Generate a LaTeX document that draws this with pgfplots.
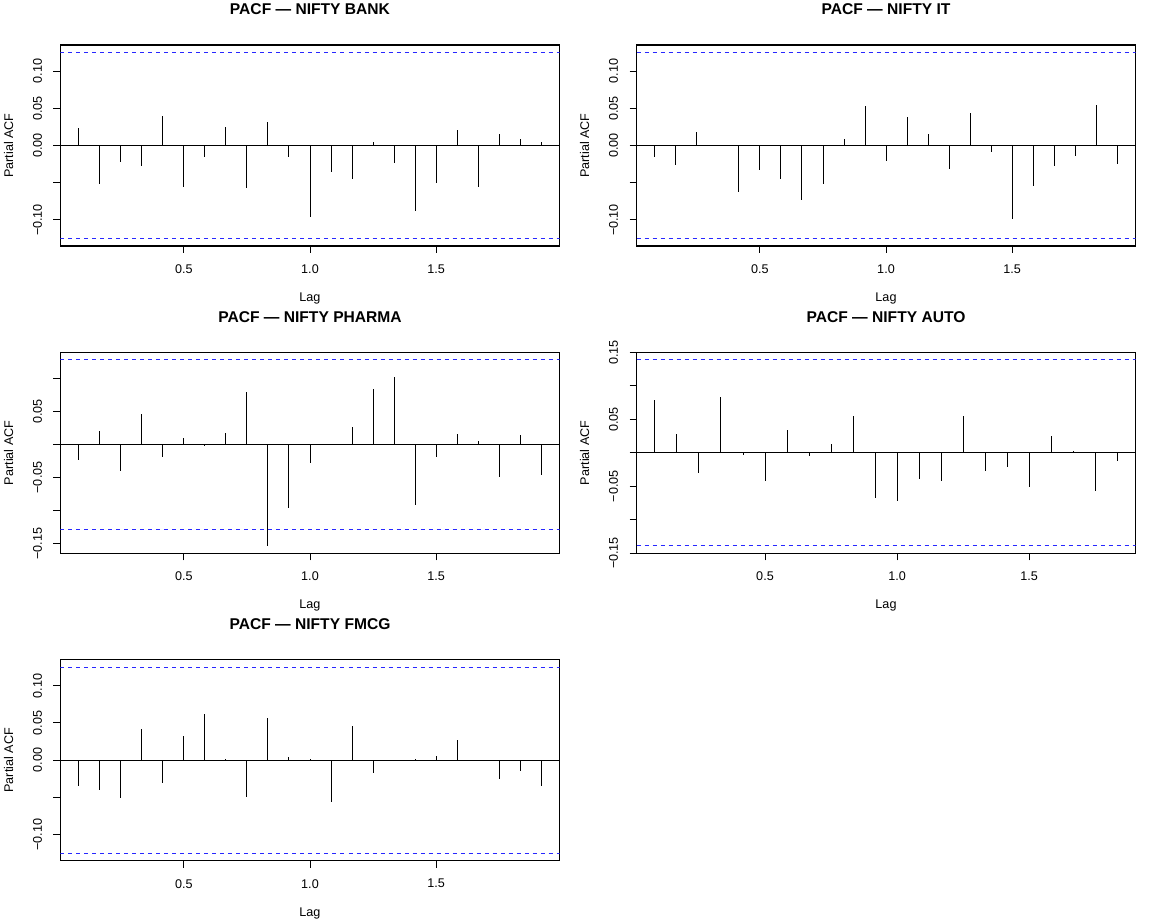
\documentclass[border=0pt]{standalone}
\usepackage{fontspec}
\setmainfont{Liberation Sans}
\usepackage{pgfplots}
\usepackage{pgfplotstable}
\pgfplotsset{compat=1.18}

% PACF values, lag k (months), lag in years = k/12
\pgfplotstableread{
k r
1 0.0233
2 -0.0516
3 -0.0215
4 -0.0274
5 0.0395
6 -0.0552
7 -0.0148
8 0.0251
9 -0.0565
10 0.0314
11 -0.0161
12 -0.0960
13 -0.0359
14 -0.0448
15 0.0045
16 -0.0229
17 -0.0883
18 -0.0498
19 0.0211
20 -0.0561
21 0.0148
22 0.0090
23 0.0049
}\bank

\pgfplotstableread{
k r
1 -0.0152
2 -0.0256
3 0.0179
4 0.0010
5 -0.0619
6 -0.0327
7 -0.0448
8 -0.0731
9 -0.0516
10 0.0081
11 0.0534
12 -0.0202
13 0.0386
14 0.0161
15 -0.0314
16 0.0439
17 -0.0081
18 -0.0982
19 -0.0543
20 -0.0269
21 -0.0135
22 0.0538
23 -0.0242
}\itdata

\pgfplotstableread{
k r
1 -0.0242
2 0.0202
3 -0.0409
4 0.0465
5 -0.0192
6 0.0101
7 -0.0030
8 0.0177
9 0.0798
10 -0.1535
11 -0.0970
12 -0.0288
13 -0.0015
14 0.0258
15 0.0838
16 0.1015
17 -0.0924
18 -0.0187
19 0.0157
20 0.0045
21 -0.0500
22 0.0141
23 -0.0465
}\pharma

\pgfplotstableread{
k r
1 0.0791
2 0.0274
3 -0.0303
4 0.0836
5 -0.0030
6 -0.0428
7 0.0343
8 -0.0045
9 0.0139
10 0.0557
11 -0.0677
12 -0.0726
13 -0.0398
14 -0.0418
15 0.0547
16 -0.0269
17 -0.0209
18 -0.0517
19 0.0244
20 0.0020
21 -0.0577
22 -0.0129
}\auto

\pgfplotstableread{
k r
1 -0.0345
2 -0.0399
3 -0.0507
4 0.0417
5 -0.0305
6 0.0323
7 0.0623
8 0.0010
9 -0.0498
10 0.0561
11 0.0040
12 0.0010
13 -0.0561
14 0.0457
15 -0.0170
16 -0.0010
17 0.0013
18 0.0054
19 0.0278
20 -0.0013
21 -0.0256
22 -0.0139
23 -0.0350
}\fmcg

\newcommand{\lblfont}{\fontsize{6.3}{7.5}\selectfont}
\pgfplotsset{
  pacf/.style={
    scale only axis, width=249.5pt, height=100.5pt,
    anchor=south west,
    axis line style={line width=0.55pt},
    tick align=outside, major tick length=3.5pt,
    tick style={black, line width=0.5pt},
    xtick pos=lower, ytick pos=left,
    xtick={0.5,1.0,1.5}, xticklabels={0.5,1.0,1.5},
    tick label style={font=\lblfont, inner sep=0pt},
    xticklabel style={anchor=center}, xticklabel shift=8pt,
    yticklabel style={rotate=90, anchor=center}, yticklabel shift=8pt,
    xlabel=Lag, ylabel=Partial ACF,
    every axis x label/.style={at={(axis description cs:0.5,-0.261)}, anchor=center, font=\lblfont},
    every axis y label/.style={at={(axis description cs:-0.1042,0.5)}, anchor=center, rotate=90, font=\lblfont},
    every axis title shift=0pt,
    every axis title/.style={at={(axis description cs:0.5,1.177)}, anchor=center, font=\bfseries\fontsize{7.8}{9}\selectfont},
  },
  spike/.style={ycomb, black, line width=0.5pt, mark=none},
  ci/.style={color={rgb,255:red,40;green,40;blue,255}, line width=0.6pt, dash pattern=on 2pt off 2pt},
}

\begin{document}
\begin{tikzpicture}
\path[use as bounding box] (0,0) rectangle (576pt,461pt);

\begin{axis}[pacf, at={(30.25pt,338pt)}, title={PACF — NIFTY BANK},
  xmin=0.01, xmax=1.99, ymin=-0.135, ymax=0.135,
  ytick={-0.10,-0.05,0,0.05,0.10}, yticklabels={−0.10,,0.00,0.05,0.10}]
\addplot[ci] coordinates {(0.01,0.125) (1.99,0.125)};
\addplot[ci] coordinates {(0.01,-0.125) (1.99,-0.125)};
\addplot[black, line width=0.5pt] coordinates {(0.01,0) (1.99,0)};
\addplot[spike] table[x expr=\thisrow{k}/12, y=r] {\bank};
\end{axis}

\begin{axis}[pacf, at={(318.25pt,338pt)}, title={PACF — NIFTY IT},
  xmin=0.01, xmax=1.99, ymin=-0.135, ymax=0.135,
  ytick={-0.10,-0.05,0,0.05,0.10}, yticklabels={−0.10,,0.00,0.05,0.10}]
\addplot[ci] coordinates {(0.01,0.125) (1.99,0.125)};
\addplot[ci] coordinates {(0.01,-0.125) (1.99,-0.125)};
\addplot[black, line width=0.5pt] coordinates {(0.01,0) (1.99,0)};
\addplot[spike] table[x expr=\thisrow{k}/12, y=r] {\itdata};
\end{axis}

\begin{axis}[pacf, at={(30.25pt,184.35pt)}, title={PACF — NIFTY PHARMA},
  xmin=0.01, xmax=1.99, ymin=-0.1648, ymax=0.1393,
  ytick={-0.15,-0.10,-0.05,0,0.05,0.10}, yticklabels={−0.15,,−0.05,,0.05,}]
\addplot[ci] coordinates {(0.01,0.1283) (1.99,0.1283)};
\addplot[ci] coordinates {(0.01,-0.1283) (1.99,-0.1283)};
\addplot[black, line width=0.5pt] coordinates {(0.01,0) (1.99,0)};
\addplot[spike] table[x expr=\thisrow{k}/12, y=r] {\pharma};
\end{axis}

\begin{axis}[pacf, at={(318.25pt,184.35pt)}, title={PACF — NIFTY AUTO},
  xmin=0.0133, xmax=1.9033, ymin=-0.1504, ymax=0.1504,
  ytick={-0.15,-0.10,-0.05,0,0.05,0.10,0.15}, yticklabels={−0.15,,−0.05,,0.05,,0.15}]
\addplot[ci] coordinates {(0.0133,0.1393) (1.9033,0.1393)};
\addplot[ci] coordinates {(0.0133,-0.1393) (1.9033,-0.1393)};
\addplot[black, line width=0.5pt] coordinates {(0.0133,0) (1.9033,0)};
\addplot[spike] table[x expr=\thisrow{k}/12, y=r] {\auto};
\end{axis}

\begin{axis}[pacf, at={(30.25pt,30.65pt)}, title={PACF — NIFTY FMCG},
  xmin=0.01, xmax=1.99, ymin=-0.135, ymax=0.135,
  ytick={-0.10,-0.05,0,0.05,0.10}, yticklabels={−0.10,,0.00,0.05,0.10}]
\addplot[ci] coordinates {(0.01,0.125) (1.99,0.125)};
\addplot[ci] coordinates {(0.01,-0.125) (1.99,-0.125)};
\addplot[black, line width=0.5pt] coordinates {(0.01,0) (1.99,0)};
\addplot[spike] table[x expr=\thisrow{k}/12, y=r] {\fmcg};
\end{axis}
\end{tikzpicture}
\end{document}
